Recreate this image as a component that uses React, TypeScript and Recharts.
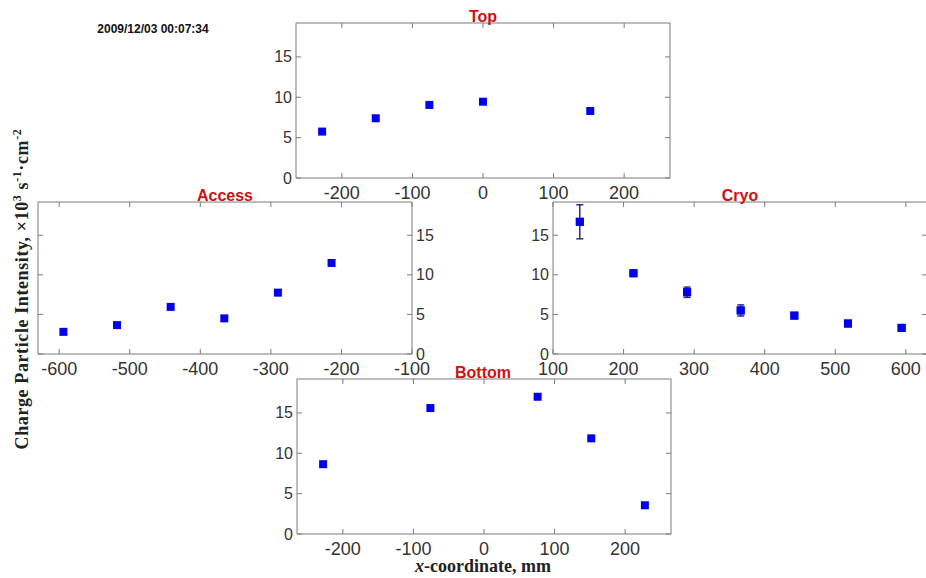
import { ErrorBar, ReferenceArea, Scatter, ScatterChart, XAxis, YAxis } from 'recharts';

const Y_TICKS = [0, 5, 10, 15];
const Y_MAX = 19.2;

const topX = [-228, -152, -76, 0, 152];
const topY = [5.75, 7.4, 9.05, 9.45, 8.3];
const topTicks = [-200, -100, 0, 100, 200];

const accessX = [-594, -518, -442, -366, -290, -214];
const accessY = [2.8, 3.65, 5.95, 4.5, 7.75, 11.5];
const accessTicks = [-600, -500, -400, -300, -200, -100];

const cryoX = [138, 214, 290, 366, 442, 518, 594];
const cryoY = [16.7, 10.2, 7.8, 5.5, 4.85, 3.85, 3.3];
const cryoErr = [2.15, 0.3, 0.65, 0.7, 0.25, 0.2, 0.2];
const cryoTicks = [100, 200, 300, 400, 500, 600];

const bottomX = [-228, -76, 76, 152, 228];
const bottomY = [8.65, 15.6, 17.0, 11.85, 3.56];
const bottomTicks = [-200, -100, 0, 100, 200];

const AXIS = '#7a7a7a';
const LABEL = '#333';
const BLUE = '#0000ee';
const ERR = '#2b2b85';
const RED = '#cc1111';
const SANS = '"Liberation Sans", Arial, sans-serif';
const SERIF = '"Liberation Serif", "Times New Roman", serif';

interface Pt {
  x: number;
  y: number;
  err?: number;
}

function toPoints(xs: number[], ys: number[], errs?: number[]): Pt[] {
  return xs.map((x, i) => ({ x, y: ys[i], err: errs ? errs[i] : undefined }));
}

const PAD_L = 50;
const PAD_R = 50;
const PAD_T = 10;
const PAD_B = 30;

function Panel({
  boxX,
  boxY,
  boxW,
  boxH,
  xDomain,
  xTicks,
  labelsRight,
  points,
  withErrors,
}: {
  boxX: number;
  boxY: number;
  boxW: number;
  boxH: number;
  xDomain: [number, number];
  xTicks: number[];
  labelsRight?: boolean;
  points: Pt[];
  withErrors?: boolean;
}) {
  const renderXTick = (p: any) => {
    const { x, y, payload } = p;
    return (
      <g>
        <line x1={x} y1={y} x2={x} y2={y - 5} stroke={AXIS} />
        <line x1={x} y1={y - boxH} x2={x} y2={y - boxH + 5} stroke={AXIS} />
        <text x={x} y={y + 21} textAnchor="middle" fontSize={18} fontFamily={SANS} fill={LABEL}>
          {payload.value}
        </text>
      </g>
    );
  };
  const renderYTick = (p: any) => {
    const { x, y, payload } = p;
    return (
      <g>
        <line x1={x} y1={y} x2={x + 5} y2={y} stroke={AXIS} />
        <line x1={x + boxW} y1={y} x2={x + boxW - 5} y2={y} stroke={AXIS} />
        <text
          x={labelsRight ? x + boxW + 4 : x - 4}
          y={y}
          textAnchor={labelsRight ? 'start' : 'end'}
          dominantBaseline="central"
          fontSize={16}
          fontFamily={SANS}
          fill={LABEL}
        >
          {payload.value}
        </text>
      </g>
    );
  };

  return (
    <div style={{ position: 'absolute', left: boxX - PAD_L, top: boxY - PAD_T }}>
      <ScatterChart
        width={boxW + PAD_L + PAD_R}
        height={boxH + PAD_T + PAD_B}
        margin={{ top: PAD_T, right: PAD_R, bottom: 0, left: 0 }}
      >
        <XAxis
          type="number"
          dataKey="x"
          domain={xDomain}
          ticks={xTicks}
          interval={0}
          allowDataOverflow
          height={PAD_B}
          axisLine={false}
          tickLine={false}
          tickSize={0}
          tickMargin={0}
          tick={renderXTick}
        />
        <YAxis
          type="number"
          dataKey="y"
          domain={[0, Y_MAX]}
          ticks={Y_TICKS}
          interval={0}
          allowDataOverflow
          width={PAD_L}
          axisLine={false}
          tickLine={false}
          tickSize={0}
          tickMargin={0}
          tick={renderYTick}
        />
        <ReferenceArea
          x1={xDomain[0]}
          x2={xDomain[1]}
          y1={0}
          y2={Y_MAX}
          fill="none"
          fillOpacity={0}
          stroke={AXIS}
          strokeWidth={1}
          ifOverflow="visible"
        />
        {withErrors ? (
          <Scatter data={points} fill={BLUE} shape="square" isAnimationActive={false}>
            <ErrorBar dataKey="err" direction="y" width={3.5} stroke={ERR} strokeWidth={1.5} />
          </Scatter>
        ) : null}
        {/* markers drawn last so they sit over the error bars */}
        <Scatter data={points} fill={BLUE} shape="square" isAnimationActive={false} />
      </ScatterChart>
    </div>
  );
}

export default function App() {
  return (
    <div
      style={{
        position: 'absolute',
        left: 0,
        top: 0,
        width: 926,
        height: 578,
        overflow: 'hidden',
        background: '#fff',
      }}
    >
      <Panel
        boxX={296}
        boxY={23}
        boxW={374}
        boxH={155}
        xDomain={[-265, 265]}
        xTicks={topTicks}
        points={toPoints(topX, topY)}
      />
      <Panel
        boxX={38}
        boxY={202}
        boxW={374}
        boxH={152}
        xDomain={[-630, -100]}
        xTicks={accessTicks}
        labelsRight
        points={toPoints(accessX, accessY)}
      />
      <Panel
        boxX={553}
        boxY={202}
        boxW={374}
        boxH={152}
        xDomain={[100, 630]}
        xTicks={cryoTicks}
        points={toPoints(cryoX, cryoY, cryoErr)}
        withErrors
      />
      <Panel
        boxX={297}
        boxY={379}
        boxW={374}
        boxH={155}
        xDomain={[-265, 265]}
        xTicks={bottomTicks}
        points={toPoints(bottomX, bottomY)}
      />
      <svg
        width={926}
        height={578}
        style={{ position: 'absolute', left: 0, top: 0, pointerEvents: 'none' }}
      >
        <text x={153} y={33} textAnchor="middle" fontSize={12} fontWeight="bold" fontFamily={SANS} fill="#111">
          2009/12/03 00:07:34
        </text>
        <g fontFamily={SANS} fontWeight="bold" fontSize={16} fill={RED} textAnchor="middle">
          <text x={483} y={22}>Top</text>
          <text x={225} y={201}>Access</text>
          <text x={740} y={201}>Cryo</text>
          <text x={483} y={378}>Bottom</text>
        </g>
        <text
          x={28}
          y={289}
          transform="rotate(-90, 28, 289)"
          textAnchor="middle"
          fontFamily={SERIF}
          fontWeight="bold"
          fontSize={18}
          letterSpacing={0.6}
          fill="#222"
        >
          Charge Particle Intensity, ×10
          <tspan dy={-7} fontSize={12}>3</tspan>
          <tspan dy={7}> s</tspan>
          <tspan dy={-7} fontSize={12}>-1</tspan>
          <tspan dy={7}>·cm</tspan>
          <tspan dy={-7} fontSize={12}>-2</tspan>
        </text>
        <text x={483} y={572} textAnchor="middle" fontFamily={SERIF} fontWeight="bold" fontSize={18} fill="#222">
          <tspan fontStyle="italic">x</tspan>-coordinate, mm
        </text>
      </svg>
    </div>
  );
}
